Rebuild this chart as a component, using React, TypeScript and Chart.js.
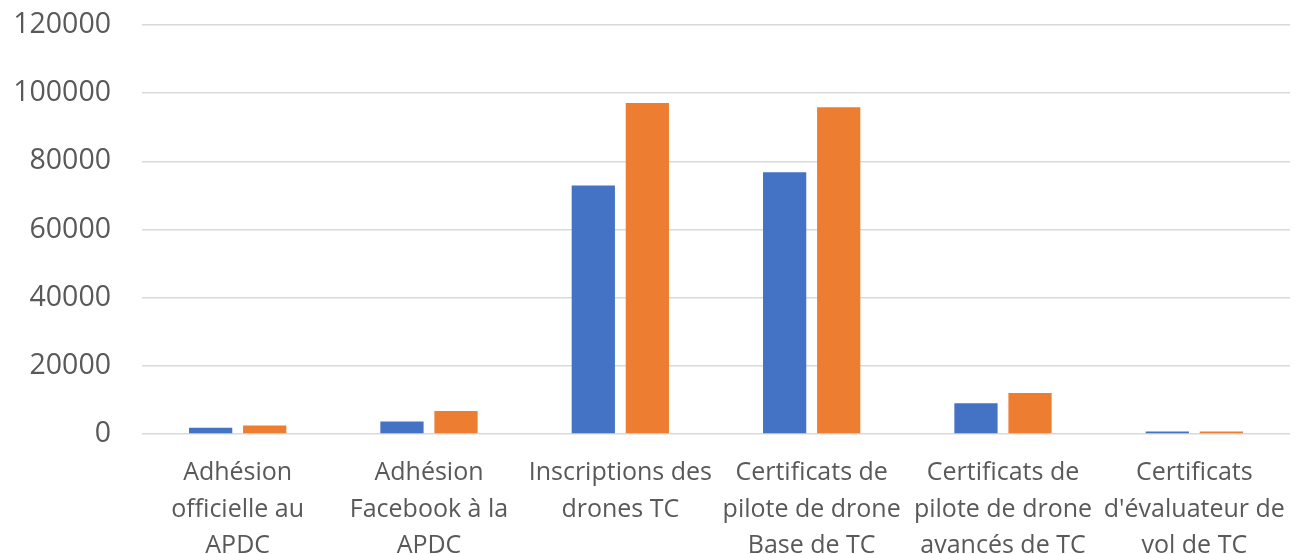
import React, { useEffect, useRef } from "react";
import { Chart, registerables } from "chart.js";

Chart.register(...registerables);

const categories: string[][] = [
  ["Adhésion", "officielle au", "APDC"],
  ["Adhésion", "Facebook à la", "APDC"],
  ["Inscriptions des", "drones TC"],
  ["Certificats de", "pilote de drone", "Base de TC"],
  ["Certificats de", "pilote de drone", "avancés de TC"],
  ["Certificats", "d'évaluateur de", "vol de TC"],
];

const seriesBlue: number[] = [1850, 3700, 72900, 76800, 9000, 700];
const seriesOrange: number[] = [2500, 6750, 97100, 95900, 12050, 700];

const yTicks: number[] = [0, 20000, 40000, 60000, 80000, 100000, 120000];

export default function App() {
  const ref = useRef<HTMLCanvasElement | null>(null);

  useEffect(() => {
    if (!ref.current) return;
    const chart = new Chart(ref.current, {
      type: "bar",
      data: {
        labels: categories,
        datasets: [
          {
            label: "Série 1",
            data: seriesBlue,
            backgroundColor: "#4472C4",
            borderWidth: 0,
            categoryPercentage: 0.565,
            barPercentage: 0.8,
          },
          {
            label: "Série 2",
            data: seriesOrange,
            backgroundColor: "#ED7D31",
            borderWidth: 0,
            categoryPercentage: 0.565,
            barPercentage: 0.8,
          },
        ],
      },
      options: {
        animation: false,
        responsive: true,
        maintainAspectRatio: false,
        layout: { padding: { top: 25, right: 9, left: 0, bottom: 0 } },
        plugins: {
          legend: { display: false },
          tooltip: { enabled: false },
        },
        scales: {
          x: {
            grid: { display: false },
            border: { display: false },
            afterFit: (s: any) => {
              s.height = 120;
              s.paddingLeft = 0;
              s.paddingRight = 0;
            },
            ticks: {
              color: "#595959",
              font: { family: "Open Sans", size: 25, lineHeight: 1.46 },
              maxRotation: 0,
              minRotation: 0,
              autoSkip: false,
              padding: 13,
            },
          },
          y: {
            min: 0,
            max: 120000,
            afterBuildTicks: (axis: any) => {
              axis.ticks = yTicks.map((v) => ({ value: v }));
            },
            afterFit: (s: any) => {
              s.width = 142;
              s.paddingTop = 0;
              s.paddingBottom = 0;
            },
            grid: { color: "#d9d9d9", lineWidth: 1.5, drawTicks: false },
            border: { display: false },
            ticks: {
              color: "#595959",
              font: { family: "Open Sans", size: 28.5 },
              padding: 31,
              callback: (v: any) => String(v),
            },
          },
        },
      },
    });
    return () => chart.destroy();
  }, []);

  return (
    <div style={{ position: "fixed", left: 0, top: 0, width: 1299, height: 554, background: "#fff" }}>
      <canvas ref={ref} />
    </div>
  );
}
